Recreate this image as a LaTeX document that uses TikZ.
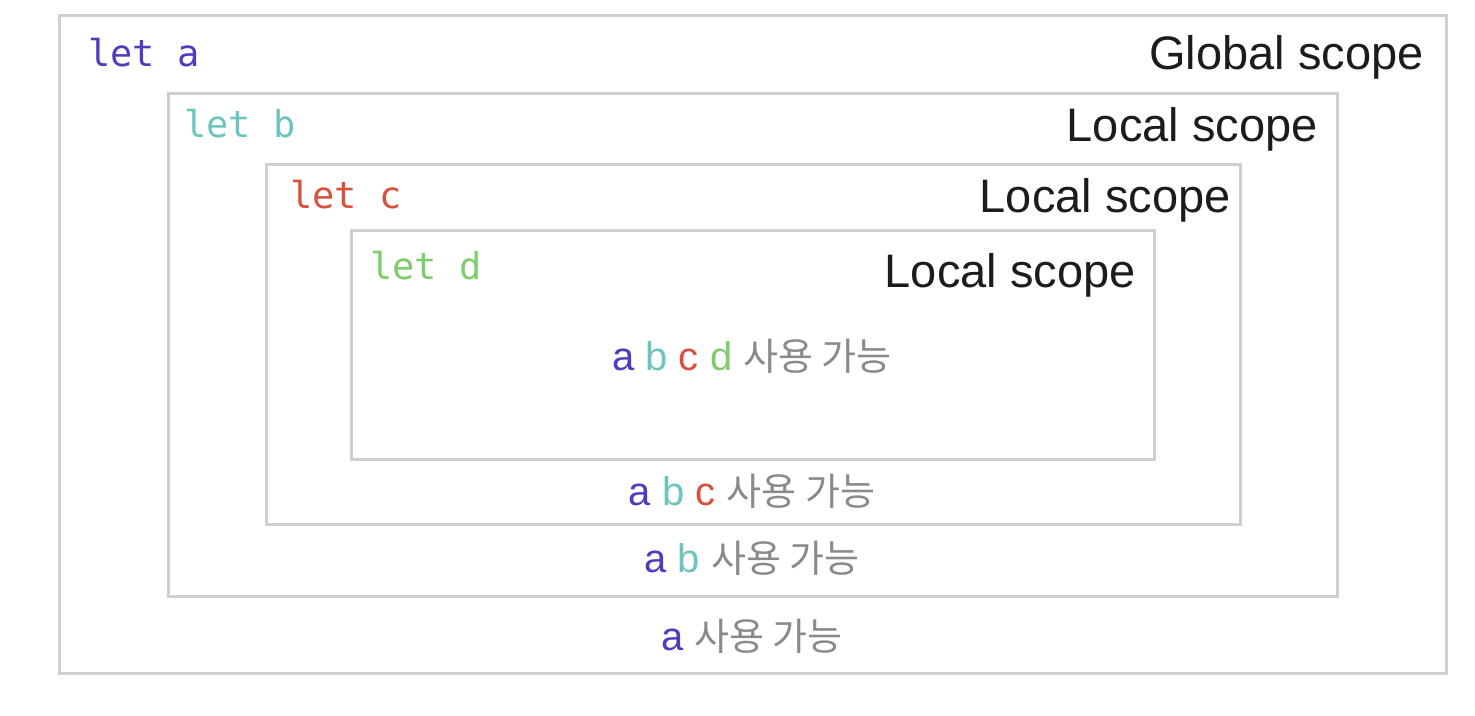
\documentclass[tikz,border=0pt]{standalone}
\usepackage{fontspec}
\setmainfont{Liberation Sans}
\newfontfamily\krfont{Noto Sans CJK KR}
\newfontfamily\codefont{DejaVu Sans Mono}
\definecolor{colA}{HTML}{4F3CBE}
\definecolor{colB}{HTML}{6DC5C0}
\definecolor{colC}{HTML}{D8503F}
\definecolor{colD}{HTML}{7FCC6B}
\definecolor{kgray}{HTML}{8A8A8A}
\definecolor{boxgray}{HTML}{CFCFCF}
\definecolor{labelblack}{HTML}{1C1C1C}
\begin{document}
\begin{tikzpicture}[x=0.5pt,y=-0.5pt,
  scopebox/.style={draw=boxgray, line width=1.5pt, inner sep=0pt, outer sep=0pt, anchor=north west},
  code/.style={font=\codefont\fontsize{18.5}{22}\selectfont, inner sep=0pt, anchor=base west},
  scopelabel/.style={font=\fontsize{23.5}{28}\selectfont, text=labelblack, inner sep=0pt, anchor=base east},
  usage/.style={font=\fontsize{20}{24}\selectfont, inner sep=0pt, anchor=base}]
\useasboundingbox (0,0) rectangle (1475,716);
\newcommand{\kr}[1]{{\krfont\fontsize{19}{23}\selectfont\color{kgray}#1}}
% boxes
\node[scopebox, minimum width=693.5pt, minimum height=328.5pt] (global) at (59,16) {};
\node[scopebox, minimum width=584.5pt, minimum height=251pt] (localb) at (168,94) {};
\node[scopebox, minimum width=487pt, minimum height=179.5pt] (localc) at (266,165) {};
\node[scopebox, minimum width=401.5pt, minimum height=114pt] (locald) at (351,231) {};
% declarations
\node[code, text=colA] (leta) at (88,67) {let a};
\node[code, text=colB] (letb) at (184,138) {let b};
\node[code, text=colC] (letc) at (290,209) {let c};
\node[code, text=colD] (letd) at (370,280) {let d};
% scope labels
\node[scopelabel] (lglobal) at (1424,70) {Global scope};
\node[scopelabel] (lb) at (1318,142) {Local scope};
\node[scopelabel] (lc) at (1231,213) {Local scope};
\node[scopelabel] (ld) at (1136,288) {Local scope};
% usage
\node[usage] (ud) at (752,370) {\textcolor{colA}{a} \textcolor{colB}{b} \textcolor{colC}{c} \textcolor{colD}{d} \kr{사용 가능}};
\node[usage] (uc) at (752,505) {\textcolor{colA}{a} \textcolor{colB}{b} \textcolor{colC}{c} \kr{사용 가능}};
\node[usage] (ub) at (752,572) {\textcolor{colA}{a} \textcolor{colB}{b} \kr{사용 가능}};
\node[usage] (ua) at (752,650) {\textcolor{colA}{a} \kr{사용 가능}};
\end{tikzpicture}
\end{document}
